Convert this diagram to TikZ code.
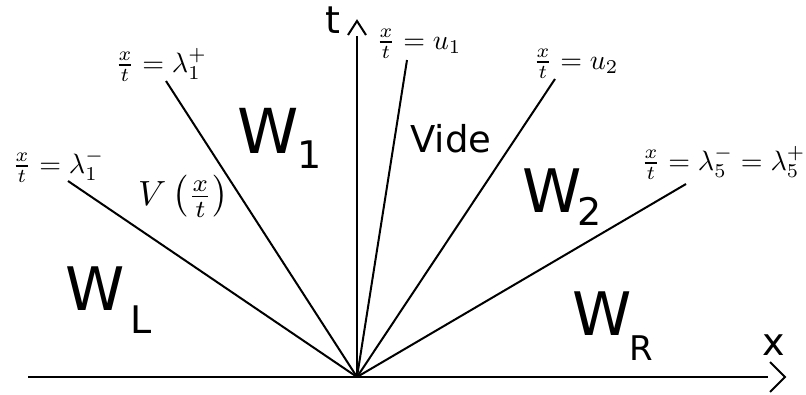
\documentclass[tikz,border=0pt]{standalone}
\usepackage{graphicx}
\usepackage{fontspec}
\newfontfamily\lab{DejaVu Sans}
\newcommand{\mlbl}[1]{\scalebox{2.8}{$#1$}}
\newcommand{\mvlbl}[1]{\scalebox{3.5}{$#1$}}
\tikzset{
  ray/.style={line width=2pt},
  axisline/.style={line width=2pt},
  chev/.style={line width=2pt, line join=miter},
  region/.style={anchor=base west, inner sep=0pt, font=\lab\fontsize{60}{60}\selectfont},
  bigregion/.style={anchor=base west, inner sep=0pt, font=\lab\fontsize{62}{62}\selectfont},
  subl/.style={anchor=base west, inner sep=0pt, font=\lab\fontsize{38}{38}\selectfont},
  axlabel/.style={anchor=base west, inner sep=0pt, font=\lab\fontsize{38}{38}\selectfont},
  vide/.style={anchor=base west, inner sep=0pt, font=\lab\fontsize{37}{37}\selectfont},
  lbl/.style={anchor=base west, inner sep=0pt},
}
\begin{document}
\begin{tikzpicture}[x=1pt,y=-1pt]
\useasboundingbox (0,0) rectangle (806,394);
% origin and ray ends
\coordinate (O) at (357,377);
\coordinate (e1m) at (68,181);
\coordinate (e1p) at (166,81);
\coordinate (eu1) at (407,60);
\coordinate (eu2) at (555,79);
\coordinate (e5) at (686,184);
% axes
\coordinate (xs) at (28,377);
\coordinate (xe) at (768,377);
\coordinate (te) at (357,36);
\draw[axisline] (xs) -- (xe);
\draw[axisline] (O) -- (te);
\coordinate (xa1) at (770,362);
\coordinate (xa2) at (785,377);
\coordinate (xa3) at (770,392);
\draw[chev] (xa1) -- (xa2) -- (xa3);
\coordinate (ta1) at (348,35);
\coordinate (ta2) at (357,21);
\coordinate (ta3) at (366,35);
\draw[chev] (ta1) -- (ta2) -- (ta3);
% rays
\draw[ray] (O) -- (e1m);
\draw[ray] (O) -- (e1p);
\draw[ray] (O) -- (eu1);
\draw[ray] (O) -- (eu2);
\draw[ray] (O) -- (e5);
% axis labels
\node[axlabel] (tl) at (325,33) {t};
\node[axlabel] (xl) at (762,355) {x};
% ray labels
\node[lbl] (l1m) at (12,173) {\mlbl{\frac{x}{t}=\lambda_1^-}};
\node[lbl] (l1p) at (115,72) {\mlbl{\frac{x}{t}=\lambda_1^+}};
\node[lbl] (lu1) at (376,49) {\mlbl{\frac{x}{t}=u_1}};
\node[lbl] (lu2) at (533,69) {\mlbl{\frac{x}{t}=u_2}};
\node[lbl] (l5) at (641,170) {\mlbl{\frac{x}{t}=\lambda_5^-=\lambda_5^+}};
\node[lbl] (V) at (138,205) {\mvlbl{V\left(\frac{x}{t}\right)}};
% regions
\node[region] (wl) at (65,310) {W};
\node[subl] (wls) at (130,333) {L};
\node[bigregion] (w1) at (237,153) {W};
\node[subl] (w1s) at (297,168) {1};
\node[region] (w2) at (522,212) {W};
\node[subl] (w2s) at (577,225) {2};
\node[region] (wr) at (572,335) {W};
\node[subl, font=\lab\fontsize{34}{34}\selectfont] (wrs) at (629,360) {R};
\node[vide] (vd) at (410,152) {Vide};
\end{tikzpicture}
\end{document}
